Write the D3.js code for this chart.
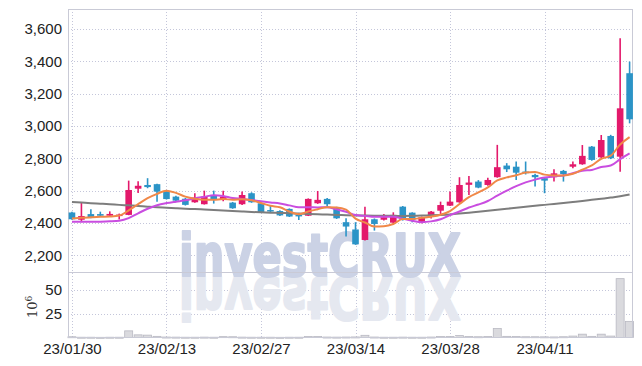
<!DOCTYPE html>
<html>
<head>
<meta charset="utf-8">
<script src="https://cdn.jsdelivr.net/npm/d3@7"></script>
<style>
  body { margin: 0; background: #fff; }
  svg text { font-family: "Liberation Sans Narrow", "Liberation Sans", sans-serif; }
</style>
</head>
<body>
<svg width="642" height="366"></svg>
<script>
// trading days (yy/mm/dd), 3/1 is a holiday
var dates = ["23/01/30","23/01/31","23/02/01","23/02/02","23/02/03","23/02/06","23/02/07","23/02/08","23/02/09","23/02/10",
  "23/02/13","23/02/14","23/02/15","23/02/16","23/02/17","23/02/20","23/02/21","23/02/22","23/02/23","23/02/24",
  "23/02/27","23/02/28","23/03/02","23/03/03","23/03/06","23/03/07","23/03/08","23/03/09","23/03/10","23/03/13",
  "23/03/14","23/03/15","23/03/16","23/03/17","23/03/20","23/03/21","23/03/22","23/03/23","23/03/24","23/03/27",
  "23/03/28","23/03/29","23/03/30","23/03/31","23/04/03","23/04/04","23/04/05","23/04/06","23/04/07","23/04/10",
  "23/04/11","23/04/12","23/04/13","23/04/14","23/04/17","23/04/18","23/04/19","23/04/20","23/04/21","23/04/24"]

var open = [2465,2420,2455,2455,2445,2445,2450,2612,2635,2640,
  2595,2563,2550,2528,2516,2573,2545,2526,2516,2584,
  2522,2480,2474,2487,2450,2445,2522,2549,2495,2405,
  2360,2295,2423,2420,2402,2501,2464,2402,2440,2476,
  2507,2528,2636,2656,2635,2683,2755,2748,2718,2697,
  2677,2683,2722,2748,2763,2872,2806,2938,2810,3326]
var high = [2470,2525,2485,2470,2472,2458,2662,2658,2677,2642,
  2600,2568,2555,2584,2600,2600,2600,2530,2594,2590,
  2525,2511,2478,2490,2456,2552,2598,2555,2500,2429,
  2405,2501,2428,2456,2466,2505,2466,2440,2474,2532,
  2594,2683,2690,2665,2680,2883,2770,2780,2780,2705,
  2680,2732,2728,2780,2882,2876,2944,2945,3542,3398]
var low = [2420,2405,2430,2440,2440,2422,2448,2585,2615,2532,
  2545,2535,2508,2525,2514,2520,2535,2488,2512,2525,
  2462,2465,2443,2437,2419,2443,2518,2500,2425,2316,
  2265,2292,2353,2416,2398,2415,2404,2398,2428,2456,
  2505,2525,2573,2615,2630,2680,2715,2666,2700,2625,
  2584,2656,2656,2738,2760,2785,2800,2795,2717,3016]
var close = [2423,2443,2435,2445,2456,2452,2604,2630,2622,2594,
  2548,2538,2512,2557,2563,2545,2563,2491,2573,2528,
  2466,2473,2447,2440,2444,2549,2543,2516,2429,2378,
  2268,2423,2394,2436,2450,2419,2420,2436,2470,2511,
  2532,2635,2650,2619,2666,2745,2732,2711,2708,2683,
  2662,2707,2703,2763,2815,2790,2913,2800,3109,3041]

// volume, millions of shares
var volume = [0.8,0.3,0.3,0.2,0.3,0.3,7.0,2.8,2.5,1.2,
  0.5,0.4,0.3,0.3,0.4,0.3,0.9,0.8,0.4,0.3,
  0.3,0.3,0.2,0.3,0.3,1.0,1.0,0.5,0.4,0.5,
  0.6,2.3,0.5,0.3,0.3,0.4,0.3,0.3,0.5,1.0,
  1.0,2.0,1.0,0.8,1.0,9.5,1.2,1.0,0.8,0.8,
  0.7,0.6,0.8,1.5,3.5,1.2,3.5,1.5,62,17]

// moving average lines as drawn (5, 10 and long-term)
var ma5 = [2428,2432,2435,2438,2440,2446,2478,2517,2553,2580,
  2600,2586,2563,2550,2544,2543,2548,2544,2547,2540,
  2524,2506,2497,2471,2454,2471,2485,2498,2496,2483,
  2427,2403,2378,2380,2394,2424,2424,2432,2439,2451,
  2474,2517,2560,2589,2620,2663,2682,2695,2712,2716,
  2699,2694,2693,2704,2730,2756,2797,2816,2885,2931]
var ma10 = [2408,2407,2407,2408,2410,2414,2430,2460,2488,2510,
  2523,2532,2540,2552,2562,2572,2567,2554,2549,2542,
  2534,2527,2521,2509,2497,2498,2496,2498,2484,2469,
  2449,2444,2438,2438,2439,2426,2414,2405,2410,2423,
  2449,2471,2496,2514,2536,2569,2600,2628,2651,2668,
  2681,2688,2694,2708,2723,2728,2746,2755,2795,2831]
var maLong = [2530,2526,2522,2519,2516,2512,2509,2505,2501,2497,
  2494,2491,2488,2486,2483,2480,2477,2474,2471,2468,
  2466,2464,2462,2460,2458,2456,2454,2452,2450,2448,
  2447,2446,2445,2444,2444,2443,2444,2446,2448,2450,
  2453,2458,2464,2470,2476,2482,2488,2494,2500,2506,
  2512,2518,2524,2530,2536,2543,2550,2557,2565,2576]

var priceTicks = [2200, 2400, 2600, 2800, 3000, 3200, 3400, 3600]
var volTicks = [25, 50]
var dateTicks = [0, 10, 20, 30, 40, 50]

var up = "#e3196b", down = "#2b94c7"

const svg = d3.select('svg')
const idx = d3.range(dates.length)

const x = d3.scaleLinear().domain([-0.42, 59.36]).range([68, 633])
const y = d3.scaleLinear().domain([2097, 3723]).range([272, 9])
const yv = d3.scaleLinear().domain([0, 69]).range([337.5, 272])

const pLeft = 68, pRight = 633, pTop = 9, pMid = 272, pBottom = 337.5

// dotted grid
const grid = svg.append('g')
  .attr('stroke', '#c4c6da')
  .attr('stroke-width', 1)
  .attr('stroke-dasharray', '1,2')
grid.selectAll('.hy').data(priceTicks).enter().append('line')
  .attr('x1', pLeft).attr('x2', pRight)
  .attr('y1', d => Math.round(y(d)) + 0.5).attr('y2', d => Math.round(y(d)) + 0.5)
grid.selectAll('.hv').data(volTicks).enter().append('line')
  .attr('x1', pLeft).attr('x2', pRight)
  .attr('y1', d => Math.round(yv(d)) + 0.5).attr('y2', d => Math.round(yv(d)) + 0.5)
grid.selectAll('.vx').data(dateTicks).enter().append('line')
  .attr('x1', d => Math.round(x(d)) + 0.5).attr('x2', d => Math.round(x(d)) + 0.5)
  .attr('y1', pTop).attr('y2', pBottom)

// watermark, mirrored about its baseline
var mark = function(fill, transform) {
  svg.append('text')
    .attr('x', 179).attr('y', 276)
    .attr('transform', transform)
    .attr('textLength', 282).attr('lengthAdjust', 'spacingAndGlyphs')
    .style('font-family', '"DejaVu Sans", sans-serif')
    .style('font-weight', 'bold').style('font-size', '58px')
    .attr('fill', fill)
    .attr('stroke', fill).attr('stroke-width', 2.2).attr('stroke-linejoin', 'round')
    .text('investCRUX')
}
mark('#e5e8f0', 'translate(0,553) scale(1,-1)')
mark('#cbd2e5', null)

// volume bars
svg.append('g').selectAll('rect')
  .data(idx).enter().append('rect')
  .attr('x', i => x(i) - 4)
  .attr('width', 8)
  .attr('y', i => yv(volume[i]))
  .attr('height', i => Math.max(1, pBottom - yv(volume[i])))
  .attr('fill', '#dadade')
  .attr('stroke', '#b9b9c2')
  .attr('stroke-width', 0.8)

// frame
const frame = svg.append('g').attr('stroke', '#c9cad6').attr('stroke-width', 1)
frame.append('line').attr('x1', pLeft + 0.5).attr('x2', pLeft + 0.5).attr('y1', pTop).attr('y2', pBottom)
frame.append('line').attr('x1', pRight - 0.5).attr('x2', pRight - 0.5).attr('y1', pTop).attr('y2', pBottom)
frame.append('line').attr('x1', pLeft).attr('x2', pRight).attr('y1', pTop + 0.5).attr('y2', pTop + 0.5)
frame.append('line').attr('x1', pLeft).attr('x2', pRight).attr('y1', pMid + 0.5).attr('y2', pMid + 0.5)
frame.append('line').attr('x1', pLeft).attr('x2', pRight).attr('y1', pBottom).attr('y2', pBottom)

// candles
const candles = svg.append('g').selectAll('g')
  .data(idx).enter().append('g')
candles.append('line')
  .attr('x1', i => x(i)).attr('x2', i => x(i))
  .attr('y1', i => y(high[i])).attr('y2', i => y(low[i]))
  .attr('stroke', i => close[i] >= open[i] ? up : down)
  .attr('stroke-width', 1.6)
candles.append('rect')
  .attr('x', i => x(i) - 3.3)
  .attr('width', 6.6)
  .attr('y', i => y(Math.max(open[i], close[i])))
  .attr('height', i => Math.max(1.5, Math.abs(y(open[i]) - y(close[i]))))
  .attr('fill', i => close[i] >= open[i] ? up : down)

// moving averages
svg.append('clipPath').attr('id', 'clip')
  .append('rect').attr('x', pLeft).attr('y', pTop).attr('width', pRight - pLeft).attr('height', pMid - pTop)
const line = d3.line().x((d, i) => x(i)).y(d => y(d)).curve(d3.curveMonotoneX)
const lines = svg.append('g').attr('clip-path', 'url(#clip)').attr('fill', 'none').attr('stroke-width', 2)
lines.append('path').attr('d', line(maLong)).attr('stroke', '#7d7d7d')
lines.append('path').attr('d', line(ma10)).attr('stroke', '#c94de0')
lines.append('path').attr('d', line(ma5)).attr('stroke', '#f08848')

// axes
const yAxis = svg.append('g')
  .attr('transform', `translate(${pLeft}, 0)`)
  .call(d3.axisLeft(y).tickValues(priceTicks).tickFormat(d3.format(',')).tickSize(0).tickPadding(6))
const vAxis = svg.append('g')
  .attr('transform', `translate(${pLeft}, 0)`)
  .call(d3.axisLeft(yv).tickValues(volTicks).tickSize(0).tickPadding(6))
const xAxis = svg.append('g')
  .attr('transform', `translate(0, ${pBottom})`)
  .call(d3.axisBottom(x).tickValues(dateTicks).tickFormat(i => dates[i]).tickSize(0).tickPadding(6))
;[yAxis, vAxis, xAxis].forEach(a => {
  a.select('.domain').remove()
  a.selectAll('text')
    .style('font-family', '"Liberation Sans Narrow", "Liberation Sans", sans-serif')
    .style('font-size', '15px')
    .attr('fill', '#222')
})

// volume unit label
const unit = svg.append('text')
  .attr('transform', 'translate(37, 318) rotate(-90)')
  .style('font-family', '"DejaVu Serif", serif')
  .style('font-size', '13px')
  .attr('fill', '#333')
unit.append('tspan').text('10')
unit.append('tspan').attr('dy', -5).style('font-size', '9px').text('6')
</script>
</body>
</html>
